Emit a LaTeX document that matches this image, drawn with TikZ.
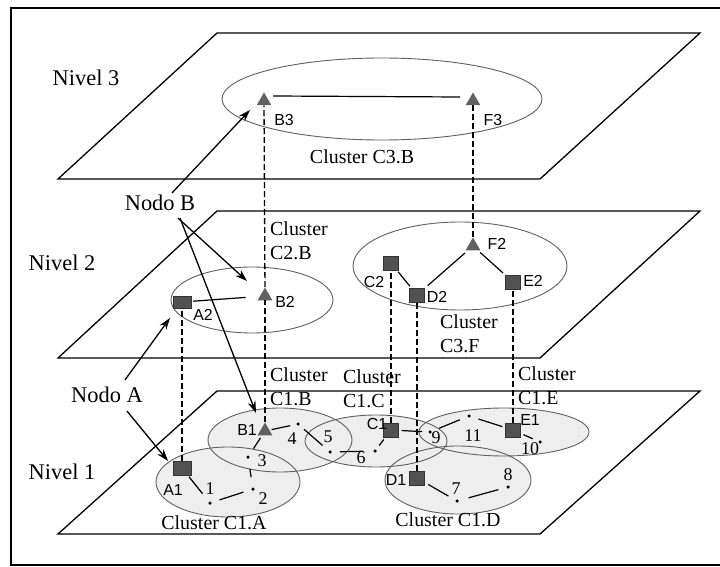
\documentclass[tikz,border=0pt]{standalone}
\usepackage{fontspec}
\setmainfont{Liberation Serif}
\newfontfamily\lsans{Liberation Sans}
\usetikzlibrary{arrows.meta,shapes.geometric}
\begin{document}
\begin{tikzpicture}[x=1bp,y=-1bp,
  plane/.style={line width=1.3bp, line join=miter},
  clus/.style={draw=gray!75!black, line width=0.9bp},
  clfill/.style={fill=gray!13},
  sq/.style={draw=black!80,fill=black!68,minimum width=15bp,minimum height=14bp,inner sep=0},
  tri/.style={regular polygon,regular polygon sides=3,fill=black!62,minimum size=17bp,inner sep=0},
  dot/.style={circle,fill=black,inner sep=0,minimum size=3.5bp},
  lab/.style={font=\lsans\fontsize{16}{16}\selectfont,inner sep=0},
  num/.style={font=\fontsize{18}{18}\selectfont,inner sep=0},
  big/.style={font=\fontsize{22.5}{22.5}\selectfont,inner sep=0},
  clab/.style={font=\fontsize{20}{25}\selectfont,inner sep=0,align=left,anchor=north west},
  cl1/.style={font=\fontsize{20}{25}\selectfont,inner sep=0},
  vdash/.style={dash pattern=on 6bp off 3bp, line width=1.3bp},
  edge/.style={line width=1.2bp},
  arr/.style={line width=1.3bp,-{Stealth[length=12bp,width=8bp]}}
]
\useasboundingbox (0,0) rectangle (720,567);
\fill[white] (0,0) rectangle (720,567);
% frame
\draw[line width=1.4bp] (722,8) -- (11,8) -- (11,565) -- (722,565);
% planes
\draw[plane] (217,33) -- (700,33) -- (540,179) -- (58,179) -- cycle;
\draw[plane] (217,211) -- (700,211) -- (540,358) -- (58,358) -- cycle;
\draw[plane] (217,391) -- (700,391) -- (540,534) -- (58,534) -- cycle;
% level labels
\node[big] (n3) at (86,78) {Nivel 3};
\node[big] (n2) at (62,263) {Nivel 2};
\node[big] (n1) at (62,472) {Nivel 1};
% cluster ellipses
\draw[clus] (382,99) ellipse [x radius=160,y radius=41];
\draw[clus] (252,300) ellipse [x radius=81,y radius=33];
\draw[clus] (460,266) ellipse [x radius=107,y radius=44];
\fill[clfill] (228,482) ellipse [x radius=72,y radius=35];
\fill[clfill] (280,440) ellipse [x radius=72,y radius=32];
\fill[clfill] (376,441) ellipse [x radius=71,y radius=26];
\fill[clfill] (504,432) ellipse [x radius=85,y radius=24];
\fill[clfill] (458,480) ellipse [x radius=73,y radius=34];
\draw[clus] (228,482) ellipse [x radius=72,y radius=35];
\draw[clus] (280,440) ellipse [x radius=72,y radius=32];
\draw[clus] (376,441) ellipse [x radius=71,y radius=26];
\draw[clus] (504,432) ellipse [x radius=85,y radius=24];
\draw[clus] (458,480) ellipse [x radius=73,y radius=34];
% main nodes
\node[tri] (B3) at (264,101) {};
\node[tri] (F3) at (473,101) {};
\node[tri] (B2) at (265,296) {};
\node[tri] (F2) at (473,246) {};
\node[sq,minimum width=18bp,minimum height=12bp] (A2) at (182,302) {};
\node[sq] (C2) at (391,263) {};
\node[sq] (D2) at (417,295) {};
\node[sq] (E2) at (513,282) {};
\node[tri] (B1) at (265,431) {};
\node[sq,minimum width=18bp] (A1) at (182,468) {};
\node[sq] (C1) at (391,430) {};
\node[sq] (D1) at (417,478) {};
\node[sq] (E1) at (513,430) {};
% dots
\node[dot] (p1) at (210,503) {};
\node[dot] (p2) at (253,489) {};
\node[dot] (p3) at (248,457) {};
\node[dot] (p4) at (298,424) {};
\node[dot] (p5) at (330,452) {};
\node[dot] (p6) at (375,451) {};
\node[dot] (p7) at (457,501) {};
\node[dot] (p8) at (508,487) {};
\node[dot] (p9) at (430,432) {};
\node[dot] (p10) at (540,442) {};
\node[dot] (p11) at (469,416) {};
% node labels
\node[lab] (lB3) at (284,120) {B3};
\node[lab] (lF3) at (493,120) {F3};
\node[lab] (lB2) at (285,302) {B2};
\node[lab] (lA2) at (203,315) {A2};
\node[lab] (lF2) at (497,244) {F2};
\node[lab] (lC2) at (374,282) {C2};
\node[lab] (lD2) at (437,297) {D2};
\node[lab] (lE2) at (533,281) {E2};
\node[lab] (lB1) at (247,430) {B1};
\node[lab] (lA1) at (173,490) {A1};
\node[lab] (lC1) at (377,424) {C1};
\node[lab] (lD1) at (396,480) {D1};
\node[lab] (lE1) at (530,420) {E1};
\node[num] (l1) at (210,489) {1};
\node[num] (l2) at (263,499) {2};
\node[num] (l3) at (262,461) {3};
\node[num] (l4) at (292,439) {4};
\node[num] (l5) at (328,437) {5};
\node[num] (l6) at (361,458) {6};
\node[num] (l7) at (456,489) {7};
\node[num] (l8) at (508,475) {8};
\node[num] (l9) at (436,438) {9};
\node[num] (l10) at (530,449) {10};
\node[num] (l11) at (473,436) {11};
% cluster labels
\node[cl1] (c3b) at (362,157) {Cluster C3.B};
\node[clab] (c2b) at (270,221) {Cluster\\C2.B};
\node[clab] (c3f) at (440,314) {Cluster\\C3.F};
\node[clab] (c1b) at (270,367) {Cluster\\C1.B};
\node[clab] (c1c) at (343,369) {Cluster\\C1.C};
\node[clab] (c1e) at (518,366) {Cluster\\C1.E};
\node[cl1] (c1a) at (214,523) {Cluster C1.A};
\node[cl1] (c1d) at (448,520) {Cluster C1.D};
% dashed vertical links
\draw[vdash] (B1) -- (B2);
\draw[vdash] (B2) -- (B3);
\draw[vdash] (A1) -- (A2);
\draw[vdash] (C1) -- (C2);
\draw[vdash] (D1) -- (D2);
\draw[vdash] (E1) -- (E2);
\draw[vdash] (F2) -- (F3);
% level 3 edge
\draw[edge] ([xshift=9bp,yshift=5bp]B3.center) -- ([xshift=-13bp,yshift=4bp]F3.center);
% level 2 edges
\draw[edge,shorten <=2bp,shorten >=14bp] (A2) -- (B2);
\draw[edge,shorten <=2bp,shorten >=2bp] (C2) -- (D2);
\draw[edge,shorten <=4bp,shorten >=4bp] (D2) -- (F2);
\draw[edge,shorten <=3bp,shorten >=3bp] (F2) -- (E2);
% level 1 edges
\draw[edge,shorten <=2bp,shorten >=10bp] (A1) -- (p1);
\draw[edge,shorten <=8bp,shorten >=8bp] (p1) -- (p2);
\draw[edge,shorten <=10bp,shorten >=10bp] (p2) -- (p3);
\draw[edge,shorten <=8bp,shorten >=3bp] (p3) -- (B1);
\draw[edge,shorten <=2bp,shorten >=6bp] (B1) -- (p4);
\draw[edge,shorten <=6bp,shorten >=8bp] (p4) -- (p5);
\draw[edge,shorten <=8bp,shorten >=10bp] (p5) -- (p6);
\draw[edge,shorten <=5bp,shorten >=3bp] (p6) -- (C1);
\draw[edge,shorten <=3bp,shorten >=6bp] (C1) -- (p9);
\draw[edge,shorten <=8bp,shorten >=8bp] (p9) -- (p11);
\draw[edge,shorten <=8bp,shorten >=3bp] (p11) -- (E1);
\draw[edge,shorten <=3bp,shorten >=6bp] (E1) -- (p10);
\draw[edge,shorten <=4bp,shorten >=8bp] (D1) -- (p7);
\draw[edge,shorten <=10bp,shorten >=8bp] (p7) -- (p8);
% Nodo labels and arrows
\node[big] (nodoB) at (160,203) {Nodo B};
\node[big] (nodoA) at (107,395) {Nodo A};
\coordinate (tB3) at (250,110);
\coordinate (tB2) at (247,281);
\coordinate (tB1) at (256,413);
\coordinate (tA2) at (170,318);
\coordinate (tA1) at (168,461);
\draw[arr] ([xshift=12bp,yshift=2bp]nodoB.north) -- (tB3);
\draw[arr] ([xshift=18bp,yshift=-7bp]nodoB.south) -- (tB2);
\draw[arr] ([xshift=20bp,yshift=-7bp]nodoB.south) -- (tB1);
\draw[arr] ([xshift=18bp,yshift=7bp]nodoA.north) -- (tA2);
\draw[arr] ([xshift=20bp,yshift=-8bp]nodoA.south) -- (tA1);
\end{tikzpicture}
\end{document}
